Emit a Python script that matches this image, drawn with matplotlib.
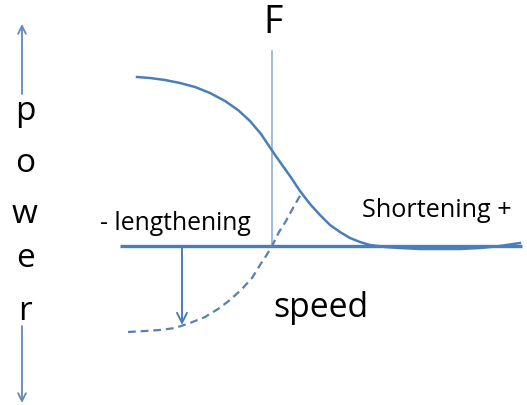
import matplotlib
matplotlib.use("Agg")
import matplotlib.pyplot as plt

plt.rcParams["font.family"] = ["Open Sans", "DejaVu Sans"]

# picture coordinates (pixels, y downwards)
power_x = [137, 150, 165, 180, 195, 210, 225, 238, 250, 261, 271, 280, 290, 300,
           310, 320, 330, 340, 350, 360, 370, 385, 400, 420, 440, 460, 480, 500, 520]
power_y = [78, 79, 81, 84, 88, 94, 102, 111, 122, 135, 150, 163, 177, 192,
           205, 216, 226, 233, 239, 243, 246, 248, 249, 250, 250, 250, 249, 247, 244]

neg_x = [128, 145, 160, 175, 190, 205, 218, 230, 242, 252, 260, 266, 272, 279, 286, 293, 301]
neg_y = [333, 332, 331, 329, 324, 318, 310, 301, 290, 279, 266, 257, 247, 233, 222, 209, 195]

axis_y = 247
axis_x = [120, 522]
f_x = 272
f_top = 52
drop_x = 182
drop_tip = 326

letters = ["p", "o", "w", "e", "r"]
letter_base = [120, 172, 223, 267, 320]

BLUE = "#4a7ebb"
LIGHT = "#8fb0d6"
ARROW = "#5f8ab8"

fig = plt.figure(figsize=(5.27, 4.06), dpi=100)
ax = fig.add_axes([0, 0, 1, 1])
ax.set_xlim(0, 527)
ax.set_ylim(406, 0)
ax.axis("off")

# speed axis
ax.plot(axis_x, [axis_y, axis_y], color=BLUE, lw=2.4, solid_capstyle="butt")
# F line
ax.plot([f_x, f_x], [f_top, axis_y], color=LIGHT, lw=1.2)
# curves
ax.plot(power_x, power_y, color=BLUE, lw=1.8, solid_joinstyle="round")
ax.plot(neg_x, neg_y, color="#5a7fb0", lw=1.6, ls=(0, (3.5, 2.2)))
# down arrow
ax.annotate("", xy=(drop_x, drop_tip), xytext=(drop_x, axis_y),
            arrowprops=dict(arrowstyle="->", color=BLUE, lw=1.4,
                            mutation_scale=18, shrinkA=0, shrinkB=0))

# power arrows on the left
ax.annotate("", xy=(22, 25), xytext=(22, 95),
            arrowprops=dict(arrowstyle="->", color=ARROW, lw=1.3,
                            mutation_scale=14, shrinkA=0, shrinkB=0))
ax.annotate("", xy=(22, 404), xytext=(22, 327),
            arrowprops=dict(arrowstyle="->", color=ARROW, lw=1.3,
                            mutation_scale=14, shrinkA=0, shrinkB=0))

for ch, yb in zip(letters, letter_base):
    ax.text(25, yb, ch, fontsize=24, ha="center", va="baseline", color="black")

ax.text(273, 33, "F", fontsize=27, ha="center", va="baseline")
ax.text(100, 230, "- lengthening", fontsize=17.8, ha="left", va="baseline")
ax.text(362, 217, "Shortening +", fontsize=18.2, ha="left", va="baseline")
ax.text(321, 317, "speed", fontsize=24.3, ha="center", va="baseline")

fig.savefig("out.png", dpi=100)
